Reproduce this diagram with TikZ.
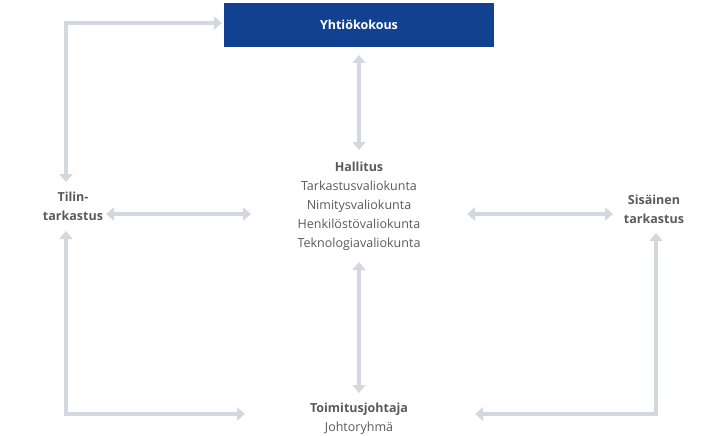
\documentclass[tikz,border=0pt]{standalone}
\usepackage{fontspec}
\setmainfont{Open Sans}
\usetikzlibrary{arrows.meta}
\definecolor{nblue}{HTML}{124191}
\definecolor{lgray}{HTML}{D3D8DE}
\definecolor{tgray}{HTML}{5A5A5A}
\begin{document}
\begin{tikzpicture}[x=1pt,y=-1pt,
  conn/.style={draw=lgray,line width=3.5pt,{Triangle[length=8pt,width=13pt]}-{Triangle[length=8pt,width=13pt]}},
  lbl/.style={text=tgray,font=\fontsize{12.5}{19}\selectfont,align=center,inner sep=0pt}]
\useasboundingbox (0,0) rectangle (720,436);
\node[fill=nblue,minimum width=270pt,minimum height=44pt,text=white,font=\fontsize{12.5}{15}\selectfont\bfseries] (yk) at (359,25) {Yhtiökokous};
\node[lbl] (hal) at (359,206) {\textbf{Hallitus}\\Tarkastusvaliokunta\\Nimitysvaliokunta\\Henkilöstövaliokunta\\Teknologiavaliokunta};
\node[lbl] (tt) at (73,206) {\textbf{Tilin-}\\\textbf{tarkastus}};
\node[lbl] (st) at (654,209) {\textbf{Sisäinen}\\\textbf{tarkastus}};
\node[lbl] (tj) at (359,419) {\textbf{Toimitusjohtaja}\\Johtoryhmä};
\coordinate (a1) at (359,55); \coordinate (a2) at (359,150);
\draw[conn] (a1) -- (a2);
\coordinate (b1) at (359,262); \coordinate (b2) at (359,393);
\draw[conn] (b1) -- (b2);
\coordinate (c1) at (106,214); \coordinate (c2) at (251,214);
\draw[conn] (c1) -- (c2);
\coordinate (d1) at (467,214); \coordinate (d2) at (613,214);
\draw[conn] (d1) -- (d2);
\coordinate (e1) at (66,182); \coordinate (e2) at (222,23);
\draw[conn] (e1) -- (66,23) -- (e2);
\coordinate (f1) at (66,231); \coordinate (f2) at (245,414);
\draw[conn] (f1) -- (66,414) -- (f2);
\coordinate (g1) at (656,233); \coordinate (g2) at (475,414);
\draw[conn] (g1) -- (656,414) -- (g2);
\end{tikzpicture}
\end{document}
